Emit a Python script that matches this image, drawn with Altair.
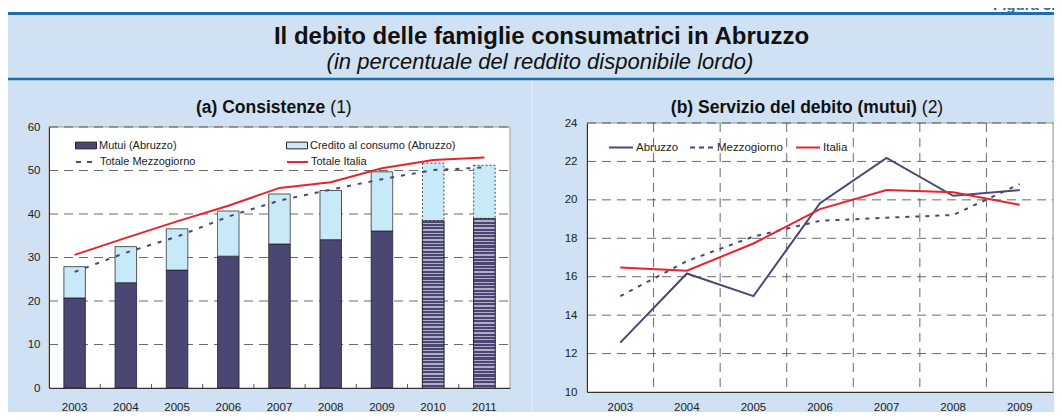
import altair as alt
import pandas as pd

# ---------------- data ----------------
anni_a = ["2003", "2004", "2005", "2006", "2007", "2008", "2009", "2010", "2011"]
mutui_abruzzo = [20.7, 24.2, 27.1, 30.3, 33.1, 34.1, 36.1, 38.5, 39.0]
credito_abruzzo = [7.2, 8.3, 9.5, 10.4, 11.5, 11.3, 13.6, 13.2, 12.2]
totale_mezzogiorno = [26.7, 31.1, 34.8, 39.4, 43.1, 45.6, 48.0, 50.1, 50.7]
totale_italia = [30.6, 34.5, 38.3, 41.9, 46.0, 47.3, 50.5, 52.4, 53.0]
anni_stimati = ["2010", "2011"]

anni_b = ["2003", "2004", "2005", "2006", "2007", "2008", "2009"]
servizio_abruzzo = [12.57, 16.17, 14.99, 19.83, 22.18, 20.21, 20.51]
servizio_mezzogiorno = [14.99, 16.81, 18.09, 18.91, 19.07, 19.21, 20.82]
servizio_italia = [16.48, 16.31, 17.73, 19.52, 20.51, 20.39, 19.74]

serie_a = ["Mutui (Abruzzo)", "Credito al consumo (Abruzzo)", "Totale Mezzogiorno", "Totale Italia"]
serie_b = ["Abruzzo", "Mezzogiorno", "Italia"]
titolo = "Il debito delle famiglie consumatrici in Abruzzo"
sottotitolo = "(in percentuale del reddito disponibile lordo)"
titolo_a = ["(a) Consistenze", "(1)"]
titolo_b = ["(b) Servizio del debito (mutui)", "(2)"]
etichetta_figura = "Figura 3.5"
ticks_a = [0, 10, 20, 30, 40, 50, 60]
ticks_b = [10, 12, 14, 16, 18, 20, 22, 24]

# ---------------- style / layout ----------------
VIOLA = "#4b4774"
ROSSO = "#e8232b"
AZZURRO = "#c8e9f8"
SFONDO = "#cfe1f2"
BLU = "#1f6fae"
DIVISORE = "#e3eef9"
GRIGLIA = "#444"
FONT = "Liberation Sans"
W, H = 1046, 404
AX0, AX1, AY0, AY1 = 41, 502, 119, 380      # panel (a) plot rectangle
BX0, BX1, BY0, BY1 = 579, 1045, 115, 384    # panel (b) plot rectangle
PAD_IN, PAD_OUT = 0.58, 0.29

one = pd.DataFrame({"k": [0]})


def testo(t, x, y, size, weight="normal", style="normal", align="center",
          color="#111", baseline="middle"):
    return alt.Chart(pd.DataFrame({"t": [t]})).mark_text(
        fontSize=size, fontWeight=weight, fontStyle=style, align=align,
        baseline=baseline, color=color, font=FONT).encode(
        x=alt.value(x), y=alt.value(y), text="t:N")


def rett(x1, x2, y1, y2, **kw):
    return alt.Chart(one).mark_rect(**kw).encode(
        x=alt.value(x1), x2=alt.value(x2), y=alt.value(y1), y2=alt.value(y2))


def leg_fill(lx, ly):
    return alt.Legend(orient="none", legendX=lx, legendY=ly, title=None,
                      symbolType="M-1,-0.32H1V0.32H-1Z", symbolSize=441,
                      symbolStrokeColor="#222", symbolStrokeWidth=1, symbolOpacity=1,
                      labelFontSize=11, labelFont=FONT, labelColor="#222",
                      labelOffset=2, padding=0)


def leg_line(lx, ly, size, dash=None, fs=11):
    kw = dict(orient="none", legendX=lx, legendY=ly, title=None,
              symbolType="stroke", symbolSize=size, symbolStrokeWidth=2,
              labelFontSize=fs, labelFont=FONT, labelColor="#222",
              labelOffset=2, padding=0)
    if dash:
        kw["symbolDash"] = dash
    return alt.Legend(**kw)


# ---------------- decorations (background) ----------------
sfondo = alt.layer(
    rett(0, W, 0, 4, color="white"),
    alt.Chart(one).mark_rule(color=BLU, strokeWidth=3).encode(
        x=alt.value(0), x2=alt.value(W), y=alt.value(5.5)),
    testo(etichetta_figura, 985, 2, 15, weight="bold", align="left", color=BLU,
          baseline="alphabetic"),
    alt.Chart(one).mark_rule(color=BLU, strokeWidth=2.5).encode(
        x=alt.value(0), x2=alt.value(W), y=alt.value(71)),
    alt.Chart(one).mark_rule(color=DIVISORE, strokeWidth=1).encode(
        x=alt.value(524), y=alt.value(72.5), y2=alt.value(H)),
    testo(titolo, 533.5, 35.5, 24, weight="bold", baseline="alphabetic"),
    testo(sottotitolo, 532, 60.5, 22, style="italic", baseline="alphabetic"),
    testo(titolo_a[0], 317.3, 105, 17.5, weight="bold", align="right", baseline="alphabetic"),
    testo(titolo_a[1], 322.3, 105, 17.5, align="left", baseline="alphabetic"),
    testo(titolo_b[0], 908.8, 105, 17.5, weight="bold", align="right", baseline="alphabetic"),
    testo(titolo_b[1], 913.8, 105, 17.5, align="left", baseline="alphabetic"),
    rett(AX0, AX1, AY0, AY1, fill="white", stroke="#9d9d9d", strokeWidth=1),
    rett(BX0, BX1, BY0, BY1, fill="white", stroke="#9d9d9d", strokeWidth=1),
)

# ---------------- panel (a) ----------------
df_a = pd.DataFrame({
    "anno": anni_a, "mutui": mutui_abruzzo, "credito": credito_abruzzo,
    "mezz": totale_mezzogiorno, "italia": totale_italia,
})
df_a["stima"] = df_a["anno"].isin(anni_stimati)
base_a = alt.Chart(df_a)

sx_a = alt.Scale(type="band", domain=anni_a, range=[AX0, AX1],
                 paddingInner=PAD_IN, paddingOuter=PAD_OUT)
sy_a = alt.Scale(domain=[0, 60], range=[AY1, AY0], nice=False)
axx_a = alt.Axis(orient="bottom", offset=-(H - AY1), labelAngle=0, ticks=False,
                 grid=False, domainColor="#333", labelPadding=13, labelFontSize=11.5,
                 labelColor="#222", labelFont=FONT, zindex=1)
axy_a = alt.Axis(orient="left", offset=-AX0, values=ticks_a, grid=False, ticks=False,
                 domainColor="#333", labelPadding=9, labelFontSize=11.5,
                 labelColor="#222", labelFont=FONT, zindex=1)


def x_a(bp=None):
    kw = dict(title=None, scale=sx_a, axis=axx_a)
    if bp is not None:
        kw["bandPosition"] = bp
    return alt.X("anno:O", **kw)


def y_a(field):
    return alt.Y(f"{field}:Q", title=None, scale=sy_a, axis=axy_a)


griglia_a = alt.Chart(pd.DataFrame({"v": ticks_a[1:]})).mark_rule(
    color=GRIGLIA, strokeWidth=0.8, strokeDash=[9, 6]).encode(
    y=y_a("v"), x=alt.value(AX0), x2=alt.value(AX1))

passo_a = (AX1 - AX0) / len(anni_a)
tacche_a = alt.Chart(pd.DataFrame({"anno": anni_a[1:]})).mark_rule(
    color="#555", strokeWidth=1, xOffset=-passo_a * PAD_IN / 2).encode(
    x=x_a(0), y=alt.value(AY1 - 4), y2=alt.value(AY1))

bar_mutui = base_a.transform_calculate(serie=f"'{serie_a[0]}'").mark_bar(
    stroke="#222", strokeWidth=0.8).encode(
    x=x_a(), y=y_a("mutui"),
    fill=alt.Fill("serie:N", scale=alt.Scale(domain=[serie_a[0]], range=[VIOLA]),
                  legend=leg_fill(AX0 + 26, AY0 + 7.5)))

stops = []
N = 50
for i in range(N):
    a, b, c = i / N, (i + 0.62) / N, (i + 1) / N
    stops += [alt.GradientStop(offset=a, color=VIOLA), alt.GradientStop(offset=b, color=VIOLA),
              alt.GradientStop(offset=b, color="#aeacc6"),
              alt.GradientStop(offset=min(c, 1.0), color="#aeacc6")]
trama = alt.LinearGradient(gradient="linear", stops=stops, x1=0, x2=0, y1=0, y2=1)

bar_trama = base_a.transform_filter("datum.stima").mark_bar(
    fill=trama, stroke="#222", strokeWidth=0.8).encode(x=x_a(), y=y_a("mutui"))

bar_cred = base_a.transform_calculate(
    cima="datum.mutui + datum.credito", serie=f"'{serie_a[1]}'").mark_bar(
    stroke="#222", strokeWidth=0.8).encode(
    x=x_a(), y=y_a("mutui"), y2="cima:Q",
    fill=alt.Fill("serie:N", scale=alt.Scale(domain=[serie_a[1]], range=[AZZURRO]),
                  legend=leg_fill(AX0 + 237, AY0 + 7.5)),
    strokeDash=alt.condition("datum.stima", alt.value([2, 2]), alt.value([1, 0])))

line_mezz = base_a.transform_calculate(serie=f"'{serie_a[2]}'").mark_line(
    strokeWidth=2, strokeDash=[4, 7]).encode(
    x=x_a(0.5), y=y_a("mezz"),
    stroke=alt.Stroke("serie:N", scale=alt.Scale(domain=[serie_a[2]], range=[VIOLA]),
                      legend=leg_line(AX0 + 26, AY0 + 23.5, 441, [5, 6])))

line_ita = base_a.transform_calculate(serie=f"'{serie_a[3]}'").mark_line(
    strokeWidth=2).encode(
    x=x_a(0.5), y=y_a("italia"),
    stroke=alt.Stroke("serie:N", scale=alt.Scale(domain=[serie_a[3]], range=[ROSSO]),
                      legend=leg_line(AX0 + 237, AY0 + 23.5, 441)))

pannello_a = alt.layer(
    griglia_a, tacche_a, bar_mutui, bar_trama, bar_cred, line_mezz, line_ita
).resolve_scale(fill="independent", stroke="independent").resolve_legend(
    fill="independent", stroke="independent")

# ---------------- panel (b) ----------------
df_b = pd.DataFrame({"anno": anni_b, "abr": servizio_abruzzo,
                     "mezz": servizio_mezzogiorno, "ita": servizio_italia})
base_b = alt.Chart(df_b)

sx_b = alt.Scale(type="band", domain=anni_b, range=[BX0, BX1],
                 paddingInner=0, paddingOuter=0)
sy_b = alt.Scale(domain=[10, 24], range=[BY1, BY0], nice=False, zero=False)
axx_b = alt.Axis(orient="bottom", offset=-(H - BY1), labelAngle=0, ticks=False,
                 grid=False, domainColor="#333", labelPadding=9, labelFontSize=11.5,
                 labelColor="#222", labelFont=FONT, zindex=1)
axy_b = alt.Axis(orient="left", offset=-BX0, values=ticks_b, grid=False, ticks=False,
                 domainColor="#333", labelPadding=10, labelFontSize=11.5,
                 labelColor="#222", labelFont=FONT, zindex=1)


def x_b(bp=0.5):
    return alt.X("anno:O", title=None, scale=sx_b, axis=axx_b, bandPosition=bp)


def y_b(field):
    return alt.Y(f"{field}:Q", title=None, scale=sy_b, axis=axy_b)


griglia_bh = alt.Chart(pd.DataFrame({"v": ticks_b[1:]})).mark_rule(
    color=GRIGLIA, strokeWidth=0.8, strokeDash=[9, 6]).encode(
    y=y_b("v"), x=alt.value(BX0), x2=alt.value(BX1))
griglia_bv = alt.Chart(pd.DataFrame({"anno": anni_b[1:]})).mark_rule(
    color=GRIGLIA, strokeWidth=0.8, strokeDash=[9, 6]).encode(
    x=x_b(0), y=alt.value(BY0), y2=alt.value(BY1))


def linea_b(field, nome, colore, lx, dash=None, sdash=None):
    kw = dict(strokeWidth=2)
    if dash:
        kw["strokeDash"] = dash
    return base_b.transform_calculate(serie=f"'{nome}'").mark_line(**kw).encode(
        x=x_b(), y=y_b(field),
        stroke=alt.Stroke("serie:N", scale=alt.Scale(domain=[nome], range=[colore]),
                          legend=leg_line(lx, BY0 + 11.5, 576, sdash, fs=11.5)))


pannello_b = alt.layer(
    griglia_bh, griglia_bv,
    linea_b("abr", serie_b[0], VIOLA, BX0 + 21),
    linea_b("mezz", serie_b[1], VIOLA, BX0 + 102, [4, 6], [5, 4]),
    linea_b("ita", serie_b[2], ROSSO, BX0 + 208),
).resolve_scale(stroke="independent").resolve_legend(stroke="independent")

# ---------------- whole figure ----------------
chart = alt.layer(sfondo, pannello_a, pannello_b).resolve_scale(
    x="independent", y="independent", fill="independent", stroke="independent"
).resolve_axis(x="independent", y="independent").resolve_legend(
    fill="independent", stroke="independent"
).properties(
    width=W, height=H, padding=0, background=SFONDO,
    autosize=alt.AutoSizeParams(type="none"),
    view=alt.ViewBackground(stroke="transparent"),
).configure(font=FONT)

chart.save("out.html", embed_options={"renderer": "svg", "actions": False})
